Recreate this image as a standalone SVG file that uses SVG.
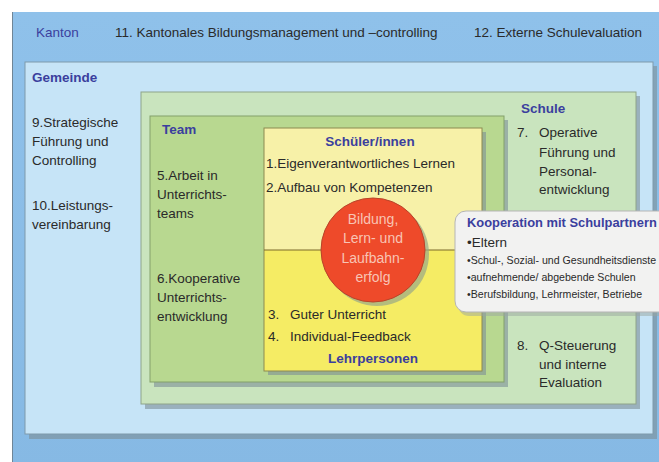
<svg xmlns="http://www.w3.org/2000/svg" width="659" height="462" viewBox="0 0 659 462">
<defs>
<style>
text{font-family:"Liberation Sans",Arial,sans-serif;font-size:13.5px;fill:#2a2a2a}
.h{fill:#3b3f9e;font-weight:bold}
.k{fill:#3b3f9e}
.c{fill:#f8c4b4;font-size:14px;text-anchor:middle}
.s{font-size:10.6px}
.sh{fill:#7d8f96;opacity:0.6}
</style>
<linearGradient id="band" x1="0" y1="0" x2="0" y2="1">
<stop offset="0" stop-color="#8fc1ea"/>
<stop offset="1" stop-color="#86b9e4"/>
</linearGradient>
</defs>
<rect x="0" y="0" width="659" height="462" fill="#ffffff"/>
<g id="kanton">
<rect x="12" y="12" width="660" height="460" fill="url(#band)"/>
<line x1="12.5" y1="12" x2="12.5" y2="462" stroke="#6f8596" stroke-width="1"/>
<text x="36" y="37" class="k">Kanton</text>
<text x="115" y="37">11. Kantonales Bildungsmanagement und –controlling</text>
<text x="474" y="37">12.  Externe Schulevaluation</text>
</g>
<g id="gemeinde">
<rect x="29" y="66" width="628" height="373" class="sh"/>
<rect x="25" y="62" width="628" height="372" fill="#c6e4f7" stroke="#7f9aab" stroke-width="1"/>
<text x="32" y="82" class="h">Gemeinde</text>
<text x="32" y="127">9.Strategische</text>
<text x="32" y="146">Führung und</text>
<text x="32" y="165">Controlling</text>
<text x="32" y="210">10.Leistungs-</text>
<text x="32" y="229">vereinbarung</text>
</g>
<g id="schule">
<rect x="145" y="96" width="495" height="313" class="sh"/>
<rect x="141" y="92" width="495" height="312" fill="#c9e4be" stroke="#8ea48a" stroke-width="1"/>
<text x="521" y="113" class="h">Schule</text>
<text x="517" y="137">7.</text>
<text x="539" y="137">Operative</text>
<text x="539" y="157">Führung und</text>
<text x="539" y="176">Personal-</text>
<text x="539" y="194">entwicklung</text>
<text x="517" y="350">8.</text>
<text x="539" y="350">Q-Steuerung</text>
<text x="539" y="369">und interne</text>
<text x="539" y="387">Evaluation</text>
</g>
<g id="team">
<rect x="154" y="120" width="354" height="267" class="sh"/>
<rect x="150" y="116" width="354" height="266" fill="#b8d890" stroke="#83a06a" stroke-width="1"/>
<text x="162" y="134" class="h">Team</text>
<text x="157" y="180">5.Arbeit in</text>
<text x="157" y="199">Unterrichts-</text>
<text x="157" y="218">teams</text>
<text x="157" y="283">6.Kooperative</text>
<text x="157" y="302">Unterrichts-</text>
<text x="157" y="321">entwicklung</text>
</g>
<g id="unterricht">
<rect x="268" y="132" width="218" height="243" class="sh"/>
<rect x="264" y="128" width="218" height="122" fill="#f7f1a8"/>
<rect x="264" y="250" width="218" height="121" fill="#f5ec64"/>
<rect x="264" y="128" width="218" height="243" fill="none" stroke="#8c8a50" stroke-width="1"/>
<text x="370" y="146" class="h" text-anchor="middle">Schüler/innen</text>
<text x="266" y="168">1.Eigenverantwortliches Lernen</text>
<text x="266" y="192">2.Aufbau von Kompetenzen</text>
<text x="268" y="319">3.</text>
<text x="290" y="319">Guter Unterricht</text>
<text x="268" y="341">4.</text>
<text x="290" y="341">Individual-Feedback</text>
<text x="373" y="363" class="h" text-anchor="middle">Lehrpersonen</text>
</g>
<g id="connectors">
<line x1="264" y1="250" x2="482" y2="250" stroke="#7d6a2a" stroke-width="1.2"/>
</g>
<g id="erfolg">
<circle cx="377" cy="254" r="52" fill="#98a888" opacity="0.7"/>
<circle cx="373" cy="250" r="52" fill="#ee4a2a" stroke="#b8442a" stroke-width="1"/>
<text x="373" y="224" class="c">Bildung,</text>
<text x="373" y="243" class="c">Lern- und</text>
<text x="373" y="263" class="c">Laufbahn-</text>
<text x="373" y="282" class="c">erfolg</text>
</g>
<g id="kooperation">
<rect x="458" y="215" width="230" height="101" rx="11" fill="#9aa6a0" opacity="0.5"/>
<rect x="455" y="211" width="230" height="101" rx="11" fill="#f2f2f1" stroke="#b5b5b5" stroke-width="1"/>
<text x="467" y="227" class="h" style="font-size:12.9px">Kooperation mit Schulpartnern</text>
<text x="467" y="247">•Eltern</text>
<text x="467" y="264" class="s">•Schul-, Sozial- und Gesundheitsdienste</text>
<text x="467" y="281" class="s">•aufnehmende/ abgebende Schulen</text>
<text x="467" y="298" class="s">•Berufsbildung, Lehrmeister, Betriebe</text>
</g>
</svg>
